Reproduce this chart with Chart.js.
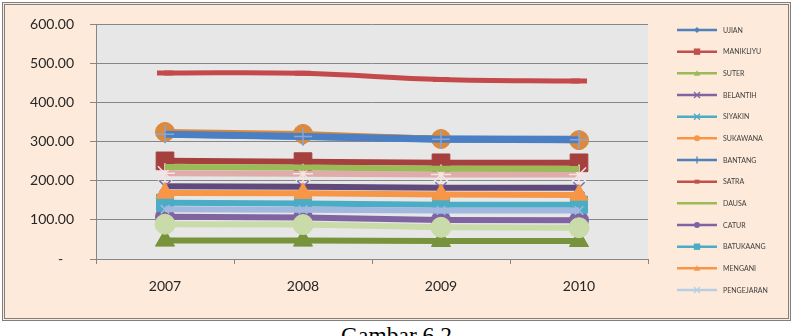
<!DOCTYPE html>
<html><head><meta charset="utf-8">
<script src="https://cdn.jsdelivr.net/npm/chart.js@4/dist/chart.umd.min.js"></script>
<style>
html,body{margin:0;padding:0;background:#fff;width:793px;height:336px;overflow:hidden;}
#frame{position:absolute;left:2px;top:2px;width:789px;height:319px;box-sizing:border-box;border:3px double #7f7f7f;background:#FDEADA;}
#wrap{position:absolute;left:0;top:0;width:793px;height:320px;}
#caption{position:absolute;left:0;width:793px;top:324px;text-align:center;font-family:"Liberation Serif","Times New Roman",serif;font-size:23.5px;line-height:1;color:#000;}
</style></head><body>
<div id="frame"></div>
<div id="wrap"><canvas id="c" width="793" height="320"></canvas></div>
<div id="caption">Gambar 6.2</div>
<script>
// ---- data ----
const categories = ['2007', '2008', '2009', '2010'];
const legendNames = ['UJIAN','MANIKLIYU','SUTER','BELANTIH','SIYAKIN','SUKAWANA','BANTANG','SATRA','DAUSA','CATUR','BATUKAANG','MENGANI','PENGEJARAN'];
const UJIAN      = [320, 314, 307, 306];
const MANIKLIYU  = [251, 249, 246, 246];
const SUTER      = [47, 47, 46, 46];
const BELANTIH   = [186, 185, 182, 182];
const SIYAKIN    = [219, 218, 216, 216];
const SUKAWANA   = [325, 320, 307, 304];
const BANTANG    = [319, 313, 306, 305];
const SATRA      = [476, 475, 459, 455];
const DAUSA      = [235, 234, 231, 230];
const CATUR      = [108, 106, 100, 99];
const BATUKAANG  = [144, 142, 139, 139];
const MENGANI    = [169, 168, 165, 164];
const PENGEJARAN = [127, 126, 124, 124];
const EXTRA      = [89, 88, 81, 80]; // series beyond the truncated legend
const yTickMin = 0, yTickMax = 600, yTickStep = 100;

const seriesValues = [UJIAN, MANIKLIYU, SUTER, BELANTIH, SIYAKIN, SUKAWANA, BANTANG, SATRA, DAUSA, CATUR, BATUKAANG, MENGANI, PENGEJARAN, EXTRA];

// ---- styles (plot) ----
const plotStyles = [
  {c:'#4F81BD', w:7, ps:'rectRot', r:9, pb:'#4F81BD', pf:'#4F81BD'},
  {c:'#A5403E', w:6, ps:'rect', r:12.5, pb:'#A5403E', pf:'#A5403E'},
  {c:'#77933C', w:6, ps:'triangle', r:11, pb:'#77933C', pf:'#77933C'},
  {c:'#604A7B', w:6, ps:'crossRot', r:8, pb:'#7E6FA8', pf:'#604A7B', pw:1.5},
  {c:'#E0ACAB', w:6, ps:'star', r:10, pb:'#F6E4E3', pf:'#F6E4E3', pw:1.5},
  {c:'#DB8A3D', w:6, ps:'circle', r:9.5, pb:'#DB8A3D', pf:'#DB8A3D'},
  {c:'#4B7FC4', w:7, ps:'cross', r:9, pb:'#8AA6D0', pf:'#4B7FC4', pw:1.5},
  {c:'#C4494A', w:5, ps:'line', r:8, pb:'#C4494A', pf:'#C4494A', pw:5, tension:0.4, cap:'round'},
  {c:'#9BBB59', w:6, ps:'circle', r:0, pb:'#9BBB59', pf:'#9BBB59'},
  {c:'#8064A2', w:6, ps:'circle', r:9.5, pb:'#8064A2', pf:'#8064A2'},
  {c:'#4BACC6', w:6, ps:'rect', r:12, pb:'#4BACC6', pf:'#4BACC6'},
  {c:'#F79646', w:6, ps:'triangle', r:10.5, pb:'#F79646', pf:'#F79646'},
  {c:'#A3B8DE', w:6, ps:'crossRot', r:6, pb:'#A3B8DE', pf:'#A3B8DE', pw:1.5},
  {c:'#C9DBA9', w:6, ps:'circle', r:10, pb:'#C9DBA9', pf:'#C9DBA9'}
];

// ---- legend icon styles (as drawn in the reference legend) ----
const legendStyles = [
  {c:'#4F81BD', m:'diamond'}, {c:'#C0504D', m:'square'}, {c:'#9BBB59', m:'triangle'},
  {c:'#8064A2', m:'x'}, {c:'#4BACC6', m:'x'}, {c:'#F79646', m:'circle'},
  {c:'#4F81BD', m:'plus'}, {c:'#C0504D', m:'dash'}, {c:'#9BBB59', m:'none'},
  {c:'#8064A2', m:'circle'}, {c:'#4BACC6', m:'square'}, {c:'#F79646', m:'triangle'},
  {c:'#B9CDE5', m:'x'}
];

function drawLegendIcon(g, st, x0, x1, y) {
  const mx = (x0 + x1) / 2;
  g.save();
  g.strokeStyle = st.c; g.lineWidth = 2.5;
  g.beginPath(); g.moveTo(x0, y); g.lineTo(x1, y); g.stroke();
  g.fillStyle = st.c; g.lineWidth = 1.3;
  const s = 3;
  g.beginPath();
  switch (st.m) {
    case 'diamond': g.moveTo(mx, y-s); g.lineTo(mx+s, y); g.lineTo(mx, y+s); g.lineTo(mx-s, y); g.closePath(); g.fill(); break;
    case 'square': g.rect(mx-3.2, y-3.2, 6.4, 6.4); g.fill(); break;
    case 'triangle': g.moveTo(mx, y-3.2); g.lineTo(mx+3.2, y+2.5); g.lineTo(mx-3.2, y+2.5); g.closePath(); g.fill(); break;
    case 'circle': g.arc(mx, y, 3, 0, Math.PI*2); g.fill(); break;
    case 'x': g.moveTo(mx-3, y-3); g.lineTo(mx+3, y+3); g.moveTo(mx+3, y-3); g.lineTo(mx-3, y+3); g.stroke(); break;
    case 'plus': g.moveTo(mx, y-3.5); g.lineTo(mx, y+3.5); g.stroke(); break;
    case 'dash': g.rect(mx-2.5, y-2, 5, 4); g.fill(); break;
    default: break;
  }
  g.restore();
}

const N = seriesValues.length;
const datasets = seriesValues.map((vals, i) => {
  const st = plotStyles[i];
  return {
    label: i < legendNames.length ? legendNames[i] : '',
    data: vals,
    borderColor: st.c,
    backgroundColor: st.pf,
    borderWidth: st.w,
    pointStyle: st.ps,
    pointRadius: st.r,
    pointHoverRadius: st.r,
    pointBackgroundColor: st.pf,
    pointBorderColor: st.pb,
    pointBorderWidth: st.pw || 1,
    tension: st.tension || 0,
    borderCapStyle: st.cap || 'butt',
    borderJoinStyle: 'round',
    fill: false,
    order: N - i,
    clip: 20
  };
});

const plotBg = {
  id: 'plotBg',
  beforeDraw(chart) {
    const {ctx, chartArea: a} = chart;
    ctx.save();
    ctx.fillStyle = '#E7E7E7';
    ctx.fillRect(a.left, a.top, a.right - a.left, a.bottom - a.top);
    ctx.restore();
  }
};

// Legend (Excel-style: line sample with marker, then name)
const sideLegend = {
  id: 'sideLegend',
  afterDraw(chart) {
    const g = chart.ctx;
    const a = chart.chartArea;
    const x0 = a.right + 29, x1 = a.right + 69, tx = a.right + 75;
    const top = 30, step = 21.67;
    g.save();
    g.font = '7px Lato';
    g.fillStyle = '#404040';
    g.textBaseline = 'middle';
    g.textAlign = 'left';
    legendNames.forEach((n, i) => {
      const y = top + i * step;
      drawLegendIcon(g, legendStyles[i], x0, x1, y);
      g.fillStyle = '#404040';
      g.fillText(n, tx, y + 0.5);
    });
    g.restore();
  }
};

new Chart(document.getElementById('c'), {
  type: 'line',
  data: { labels: categories, datasets },
  plugins: [plotBg, sideLegend],
  options: {
    responsive: false,
    animation: false,
    devicePixelRatio: 1,
    layout: { padding: { top: 23, left: 0, right: 145, bottom: 0 } },
    plugins: {
      tooltip: { enabled: false },
      legend: { display: false }
    },
    scales: {
      x: {
        offset: true,
        grid: { display: true, drawOnChartArea: false, offset: true, tickLength: 5, color: '#868686', tickColor: '#868686' },
        border: { display: true, color: '#868686' },
        ticks: { color: '#262626', font: { family: 'Lato', size: 14 }, padding: 14, maxRotation: 0 },
        afterFit(s) { s.height = 61; }
      },
      y: {
        min: yTickMin, max: yTickMax,
        grid: { color: '#868686', tickLength: 6, tickColor: '#868686' },
        border: { display: true, color: '#868686' },
        ticks: {
          stepSize: yTickStep,
          color: '#262626',
          font: { family: 'Lato', size: 14 },
          padding: 16,
          callback: (v) => v === 0 ? '-   ' : Number(v).toFixed(2)
        },
        afterFit(s) { s.width = 96; }
      }
    }
  }
});
</script>
</body></html>
